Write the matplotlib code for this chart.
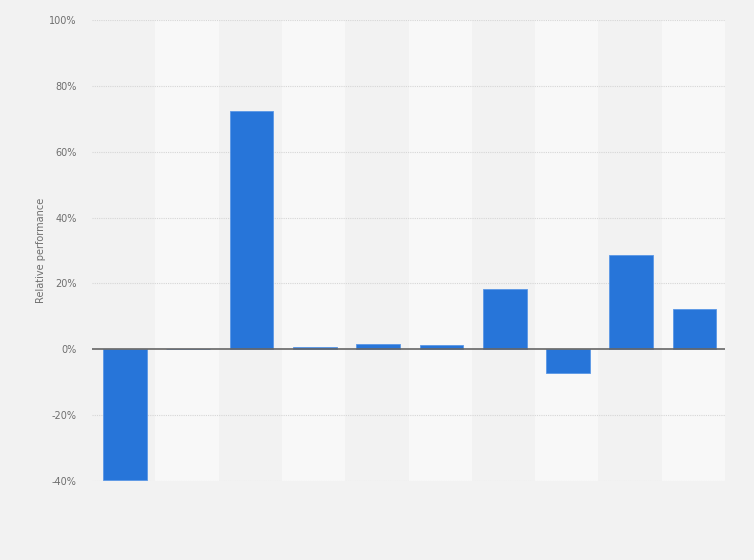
import matplotlib
matplotlib.use("Agg")
import matplotlib.pyplot as plt
import numpy as np

categories = ["1", "2", "3", "4", "5", "6", "7", "8", "9", "10"]
values = [-39.8, 0.1, 72.5, 0.7, 1.7, 1.3, 18.3, -7.2, 28.6, 12.2]
yticks = [-40, -20, 0, 20, 40, 60, 80, 100]
ytick_labels = ["-40%", "-20%", "0%", "20%", "40%", "60%", "80%", "100%"]

fig = plt.figure(figsize=(7.54, 5.6), dpi=100)
fig.patch.set_facecolor("#f2f2f2")
ax = fig.add_axes([92/754, 1-481/560, (725-92)/754, (481-20)/560])
ax.set_facecolor("#f2f2f2")

x = np.arange(len(categories))
for i in x:
    if i % 2 == 1:
        ax.axvspan(i-0.5, i+0.5, color="#f8f8f8", zorder=0, lw=0)

ax.bar(x + 0.02, values, width=0.69, color="#2775d9", edgecolor="#5a97e6", linewidth=0.6, zorder=3)
ax.axhline(0, color="#666666", lw=1.2, zorder=4)

ax.set_xlim(-0.5, len(categories)-0.5)
ax.set_ylim(-40, 100)
ax.set_yticks(yticks)
ax.set_yticklabels(ytick_labels, fontsize=7, color="#6e6e6e")
ax.set_xticks([])
ax.tick_params(axis="y", length=0, pad=11)
for t in yticks:
    if t != 0:
        ax.axhline(t, color="#d6d6d6", lw=0.8, ls=(0, (1, 1)), zorder=1)
for s in ax.spines.values():
    s.set_visible(False)
ax.set_ylabel("Relative performance", fontsize=7, color="#6e6e6e")
ax.yaxis.set_label_coords((46-92)/633, 0.5)

fig.savefig("out.png", dpi=100, facecolor=fig.get_facecolor())
